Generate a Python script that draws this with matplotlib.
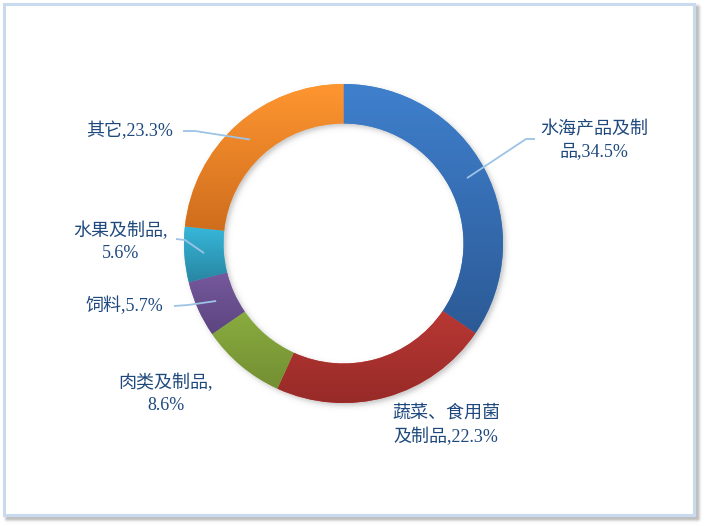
import numpy as np
import matplotlib
matplotlib.use('Agg')
import matplotlib.pyplot as plt
from matplotlib.patches import Rectangle
from matplotlib.colors import to_rgb

# ---- data ----
categories = ['水海产品及制品', '蔬菜、食用菌及制品', '肉类及制品', '饲料', '水果及制品', '其它']
shares = [34.5, 22.3, 8.6, 5.7, 5.6, 23.3]
# where each label text is broken into two lines (character index), None = one line
label_breaks = [6, 6, 6, None, 6, None]
top_colors = ['#3f80cd', '#d0413d', '#9dc54a', '#8262aa', '#37b7da', '#ff9630']
bottom_colors = ['#2c5a96', '#962a27', '#738f33', '#5c4580', '#2886a2', '#cb6a1c']

W, H = 706, 528
fig = plt.figure(figsize=(W / 100, H / 100), dpi=100)
fig.patch.set_facecolor('white')
ax = fig.add_axes([0, 0, 1, 1])

def Y(ypx):
    return H - ypx

# ---- frame shadow + frame ----
fx0, fy0, fx1, fy1 = 3.5, 3.5, 693.5, 514.5
gx = np.arange(0, W) + 0.5
gy = np.arange(0, H) + 0.5
GX, GY = np.meshgrid(gx, gy)
off = 4.0
dx = np.maximum(np.maximum((fx0 + off) - GX, GX - (fx1 + off)), 0)
dy = np.maximum(np.maximum((fy0 + off) - GY, GY - (fy1 + off)), 0)
dd = np.hypot(dx, dy)
sh_alpha = 0.45 * np.exp(-(dd / 2.5) ** 2)
sh_img = np.zeros((H, W, 4))
sh_img[..., :3] = 0.45
sh_img[..., 3] = sh_alpha
ax.imshow(sh_img, extent=(0, W, 0, H), origin='upper', zorder=0, interpolation='bilinear')
ax.add_patch(Rectangle((fx0, Y(fy1)), fx1 - fx0, fy1 - fy0, facecolor='white',
                       edgecolor='#c9daef', linewidth=2.2, zorder=1))

# ---- donut ----
cx, cy = 343.5, Y(243.5)
R, r = 159.5, 120.0

# soft drop shadow of ring
sx = np.arange(150, 540) + 0.5
sy = np.arange(Y(430), Y(60)) + 0.5
SX, SY = np.meshgrid(sx, sy)
d = np.hypot(SX - (cx + 2.5), SY - (cy - 2.5))
sd = np.maximum(d - R, r - d)
ring_alpha = 0.35 / (1 + np.exp(sd / 1.6))
ring_img = np.zeros(SX.shape + (4,))
ring_img[..., :3] = 0.35
ring_img[..., 3] = ring_alpha
ax.imshow(ring_img, extent=(sx[0] - 0.5, sx[-1] + 0.5, sy[0] - 0.5, sy[-1] + 0.5),
          origin='lower', zorder=2, interpolation='bilinear')

wedges, _ = ax.pie(shares, radius=R, center=(cx, cy), startangle=90, counterclock=False,
                   colors=top_colors, wedgeprops=dict(width=R - r, linewidth=0, zorder=3))

for w, c0, c1 in zip(wedges, top_colors, bottom_colors):
    verts = w.get_patch_transform().transform(w.get_path().vertices)
    xmin, ymin = verts.min(axis=0)
    xmax, ymax = verts.max(axis=0)
    t = np.linspace(0, 1, 256)[:, None]
    a, b = np.array(to_rgb(c1)), np.array(to_rgb(c0))
    grad = (a[None, :] * (1 - t) + b[None, :] * t)[:, None, :]
    im = ax.imshow(grad, extent=(xmin, xmax, ymin, ymax), origin='lower', aspect='auto',
                   interpolation='bilinear', zorder=4)
    im.set_clip_path(w)

# ---- labels ----
text_color = '#1f497d'
font = ['Liberation Serif', 'Noto Sans CJK SC']
label_pos = [(594, 141), (446, 425), (166, 394), (124, 306), (121, 242), (130, 131)]
# leader line: (label-side start, elbow) in pixels; None = no leader
leaders = [((535, 139), (526, 139)), None, None,
           ((174, 306), (188, 305)), ((176, 239), (185, 240)), ((183, 131), (195, 131))]

cum = np.cumsum([0] + shares)
total = cum[-1]
rm = (R + r) / 2
for i, (cat, val) in enumerate(zip(categories, shares)):
    txt = f'{cat},{val}%'
    if label_breaks[i] is not None:
        k = label_breaks[i]
        txt = txt[:k] + '\n' + txt[k:]
    lx, ly = label_pos[i]
    ax.text(lx, Y(ly), txt, ha='center', va='center', multialignment='center',
            fontsize=13, color=text_color, family=font, linespacing=1.4, zorder=6)
    if leaders[i] is not None:
        mid = (cum[i] + cum[i + 1]) / 2 / total
        ang = np.deg2rad(90 - 360 * mid)
        ex, ey = cx + rm * np.cos(ang), cy + rm * np.sin(ang)
        (p0x, p0y), (p1x, p1y) = leaders[i]
        ax.plot([p0x, p1x, ex], [Y(p0y), Y(p1y), ey], color='#9dc3e6', lw=1.3,
                solid_capstyle='butt', zorder=5)

ax.set_xlim(0, W)
ax.set_ylim(0, H)
ax.set_aspect('auto')
ax.axis('off')
fig.savefig('out.png', dpi=100, facecolor='white')
